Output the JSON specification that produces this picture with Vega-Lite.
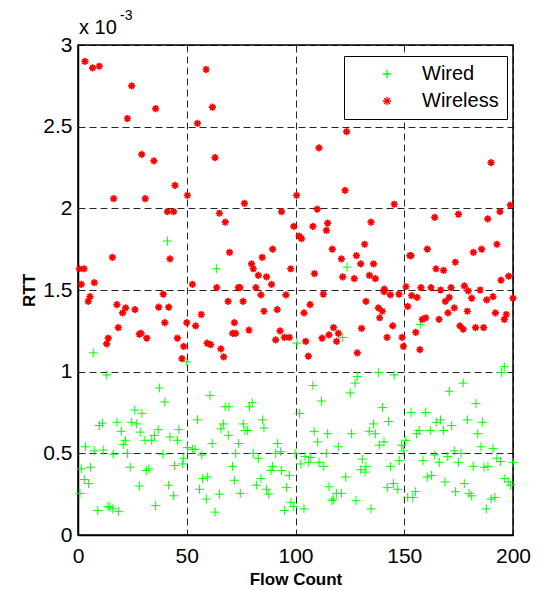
{
"$schema": "https://vega.github.io/schema/vega-lite/v6.json",
"width": 435, "height": 490,
"autosize": {"type": "none"},
"padding": {"left": 78, "top": 45, "right": 25, "bottom": 55},
"background": "white",
"config": {
  "font": "Liberation Sans",
  "view": {"stroke": "black", "strokeWidth": 1.5},
  "axis": {"domainColor": "black", "domainWidth": 1.5, "labelColor": "black", "labelFontSize": 21, "labelFont": "Liberation Sans", "ticks": false, "tickSize": 0, "grid": true, "gridColor": "black", "gridDash": [7, 4], "gridWidth": 1, "gridOpacity": 0.85, "titleFontSize": 17, "titleFontWeight": "bold", "titleColor": "black", "titleFont": "Liberation Sans", "labelFlush": false, "labelOverlap": false}
},
"datasets": {
"wireless": [
{"flow":3.2,"rtt":2.90},{"flow":6.7,"rtt":2.86},{"flow":9.8,"rtt":2.87},{"flow":24.7,"rtt":2.75},{"flow":22.7,"rtt":2.55},{"flow":35.7,"rtt":2.61},{"flow":29.3,"rtt":2.33},{"flow":34.9,"rtt":2.29},{"flow":44.6,"rtt":2.14},{"flow":50.3,"rtt":2.08},
{"flow":16.4,"rtt":2.06},{"flow":30.9,"rtt":2.06},{"flow":41.1,"rtt":1.98},{"flow":44.0,"rtt":1.98},{"flow":15.8,"rtt":1.70},{"flow":42.3,"rtt":1.69},{"flow":0.6,"rtt":1.63},{"flow":2.8,"rtt":1.63},{"flow":1.5,"rtt":1.535},{"flow":7.5,"rtt":1.545},
{"flow":58.9,"rtt":2.85},{"flow":61.8,"rtt":2.62},{"flow":54.9,"rtt":2.52},{"flow":63.0,"rtt":2.31},{"flow":100.5,"rtt":2.08},{"flow":76.5,"rtt":2.03},{"flow":65.0,"rtt":1.97},{"flow":93.6,"rtt":1.98},{"flow":67.7,"rtt":1.915},{"flow":99.2,"rtt":1.89},
{"flow":101.7,"rtt":1.83},{"flow":69.7,"rtt":1.73},{"flow":89.5,"rtt":1.75},{"flow":84.7,"rtt":1.70},{"flow":79.8,"rtt":1.66},{"flow":80.6,"rtt":1.63},{"flow":97.8,"rtt":1.63},{"flow":82.9,"rtt":1.59},{"flow":86.7,"rtt":1.58},{"flow":89.0,"rtt":1.535},
{"flow":52.6,"rtt":1.535},{"flow":63.8,"rtt":1.515},{"flow":73.7,"rtt":1.515},{"flow":74.5,"rtt":1.515},{"flow":81.8,"rtt":1.515},{"flow":123.5,"rtt":2.47},{"flow":110.8,"rtt":2.37},{"flow":122.8,"rtt":2.11},{"flow":145.4,"rtt":2.025},{"flow":110.0,"rtt":1.995},
{"flow":108.0,"rtt":1.89},{"flow":114.8,"rtt":1.91},{"flow":114.2,"rtt":1.865},{"flow":134.7,"rtt":1.915},{"flow":102.8,"rtt":1.815},{"flow":131.8,"rtt":1.78},{"flow":116.9,"rtt":1.75},{"flow":128.0,"rtt":1.71},{"flow":121.1,"rtt":1.69},{"flow":130.0,"rtt":1.66},
{"flow":135.9,"rtt":1.66},{"flow":108.7,"rtt":1.60},{"flow":121.7,"rtt":1.58},{"flow":127.0,"rtt":1.57},{"flow":134.0,"rtt":1.59},{"flow":136.7,"rtt":1.57},{"flow":152.6,"rtt":1.71},{"flow":150.8,"rtt":1.52},{"flow":140.8,"rtt":1.505},{"flow":189.9,"rtt":2.28},
{"flow":198.8,"rtt":2.02},{"flow":194.0,"rtt":1.98},{"flow":188.4,"rtt":1.935},{"flow":164.0,"rtt":1.945},{"flow":174.9,"rtt":1.965},{"flow":192.6,"rtt":1.78},{"flow":185.6,"rtt":1.75},{"flow":181.8,"rtt":1.73},{"flow":160.6,"rtt":1.75},{"flow":153.1,"rtt":1.71},
{"flow":173.5,"rtt":1.67},{"flow":164.6,"rtt":1.63},{"flow":168.1,"rtt":1.62},{"flow":194.5,"rtt":1.56},{"flow":198.0,"rtt":1.585},{"flow":157.7,"rtt":1.515},{"flow":162.3,"rtt":1.515},{"flow":171.5,"rtt":1.515},{"flow":177.6,"rtt":1.525},{"flow":166.7,"rtt":1.50},
{"flow":179.4,"rtt":1.495},{"flow":184.9,"rtt":1.50},{"flow":39.2,"rtt":1.475},{"flow":5.5,"rtt":1.46},{"flow":4.7,"rtt":1.43},{"flow":17.9,"rtt":1.41},{"flow":21.9,"rtt":1.39},{"flow":20.5,"rtt":1.36},{"flow":26.2,"rtt":1.38},{"flow":37.1,"rtt":1.395},
{"flow":41.7,"rtt":1.395},{"flow":50.0,"rtt":1.30},{"flow":39.9,"rtt":1.30},{"flow":18.5,"rtt":1.27},{"flow":28.2,"rtt":1.23},{"flow":29.0,"rtt":1.235},{"flow":31.6,"rtt":1.205},{"flow":13.9,"rtt":1.205},{"flow":13.2,"rtt":1.17},{"flow":45.7,"rtt":1.205},
{"flow":48.6,"rtt":1.155},{"flow":47.8,"rtt":1.08},{"flow":84.1,"rtt":1.47},{"flow":95.6,"rtt":1.47},{"flow":69.0,"rtt":1.43},{"flow":75.9,"rtt":1.43},{"flow":85.5,"rtt":1.37},{"flow":91.6,"rtt":1.38},{"flow":56.7,"rtt":1.35},{"flow":54.1,"rtt":1.28},
{"flow":71.9,"rtt":1.30},{"flow":71.1,"rtt":1.235},{"flow":72.5,"rtt":1.235},{"flow":78.6,"rtt":1.255},{"flow":92.9,"rtt":1.25},{"flow":59.4,"rtt":1.175},{"flow":61.0,"rtt":1.165},{"flow":65.7,"rtt":1.14},{"flow":67.0,"rtt":1.09},{"flow":90.9,"rtt":1.195},
{"flow":94.9,"rtt":1.21},{"flow":97.2,"rtt":1.21},{"flow":112.8,"rtt":1.475},{"flow":140.7,"rtt":1.49},{"flow":143.6,"rtt":1.47},{"flow":147.6,"rtt":1.475},{"flow":106.7,"rtt":1.41},{"flow":103.9,"rtt":1.36},{"flow":132.4,"rtt":1.43},{"flow":138.1,"rtt":1.39},
{"flow":139.9,"rtt":1.37},{"flow":138.7,"rtt":1.33},{"flow":151.6,"rtt":1.40},{"flow":144.7,"rtt":1.28},{"flow":117.5,"rtt":1.27},{"flow":115.4,"rtt":1.225},{"flow":112.2,"rtt":1.205},{"flow":119.7,"rtt":1.235},{"flow":118.9,"rtt":1.185},{"flow":130.4,"rtt":1.265},
{"flow":142.1,"rtt":1.21},{"flow":149.0,"rtt":1.21},{"flow":149.6,"rtt":1.155},{"flow":104.7,"rtt":1.185},{"flow":105.9,"rtt":1.095},{"flow":128.4,"rtt":1.115},{"flow":153.4,"rtt":1.465},{"flow":155.9,"rtt":1.455},{"flow":181.0,"rtt":1.45},{"flow":187.9,"rtt":1.44},
{"flow":190.8,"rtt":1.46},{"flow":200.0,"rtt":1.45},{"flow":168.9,"rtt":1.43},{"flow":170.7,"rtt":1.455},{"flow":173.0,"rtt":1.39},{"flow":170.1,"rtt":1.36},{"flow":179.0,"rtt":1.37},{"flow":191.9,"rtt":1.36},{"flow":196.9,"rtt":1.35},{"flow":196.0,"rtt":1.32},
{"flow":158.3,"rtt":1.32},{"flow":159.9,"rtt":1.33},{"flow":166.0,"rtt":1.32},{"flow":175.6,"rtt":1.28},{"flow":177.1,"rtt":1.26},{"flow":182.8,"rtt":1.27},{"flow":186.5,"rtt":1.27},{"flow":155.3,"rtt":1.24},{"flow":157.2,"rtt":1.135}
],
"wired": [
{"flow":41.1,"rtt":1.80},{"flow":63.6,"rtt":1.63},{"flow":123.7,"rtt":1.64},{"flow":7.0,"rtt":1.115},{"flow":50.0,"rtt":1.06},{"flow":13.2,"rtt":0.98},{"flow":37.4,"rtt":0.90},{"flow":39.9,"rtt":0.815},{"flow":26.1,"rtt":0.765},{"flow":29.4,"rtt":0.745},
{"flow":9.8,"rtt":0.67},{"flow":11.2,"rtt":0.685},{"flow":17.9,"rtt":0.69},{"flow":24.7,"rtt":0.69},{"flow":27.0,"rtt":0.68},{"flow":19.9,"rtt":0.635},{"flow":28.6,"rtt":0.63},{"flow":36.9,"rtt":0.645},{"flow":46.4,"rtt":0.645},{"flow":35.1,"rtt":0.61},
{"flow":33.9,"rtt":0.58},{"flow":30.8,"rtt":0.58},{"flow":21.8,"rtt":0.58},{"flow":20.8,"rtt":0.555},{"flow":42.3,"rtt":0.60},{"flow":45.7,"rtt":0.58},{"flow":50.3,"rtt":0.535},{"flow":3.4,"rtt":0.54},{"flow":7.5,"rtt":0.515},{"flow":11.6,"rtt":0.52},
{"flow":16.2,"rtt":0.495},{"flow":22.8,"rtt":0.50},{"flow":39.1,"rtt":0.495},{"flow":48.6,"rtt":0.47},{"flow":48.1,"rtt":0.435},{"flow":44.4,"rtt":0.425},{"flow":1.5,"rtt":0.405},{"flow":5.8,"rtt":0.415},{"flow":24.0,"rtt":0.415},{"flow":32.6,"rtt":0.405},
{"flow":31.4,"rtt":0.395},{"flow":2.9,"rtt":0.34},{"flow":4.9,"rtt":0.315},{"flow":28.2,"rtt":0.30},{"flow":41.7,"rtt":0.305},{"flow":44.0,"rtt":0.24},{"flow":0.9,"rtt":0.255},{"flow":9.1,"rtt":0.15},{"flow":13.8,"rtt":0.175},{"flow":14.7,"rtt":0.17},
{"flow":16.0,"rtt":0.16},{"flow":18.7,"rtt":0.145},{"flow":35.7,"rtt":0.18},{"flow":100.7,"rtt":1.175},{"flow":60.7,"rtt":0.855},{"flow":67.7,"rtt":0.785},{"flow":69.4,"rtt":0.785},{"flow":78.8,"rtt":0.785},{"flow":80.1,"rtt":0.81},{"flow":101.9,"rtt":0.745},
{"flow":54.9,"rtt":0.705},{"flow":66.8,"rtt":0.68},{"flow":65.7,"rtt":0.65},{"flow":76.0,"rtt":0.68},{"flow":76.8,"rtt":0.64},{"flow":78.0,"rtt":0.64},{"flow":84.9,"rtt":0.705},{"flow":85.5,"rtt":0.655},{"flow":69.1,"rtt":0.61},{"flow":61.7,"rtt":0.56},
{"flow":73.9,"rtt":0.56},{"flow":91.8,"rtt":0.56},{"flow":52.6,"rtt":0.525},{"flow":53.8,"rtt":0.525},{"flow":72.5,"rtt":0.50},{"flow":80.6,"rtt":0.50},{"flow":90.9,"rtt":0.50},{"flow":93.2,"rtt":0.51},{"flow":99.8,"rtt":0.50},{"flow":56.9,"rtt":0.49},
{"flow":82.9,"rtt":0.47},{"flow":71.1,"rtt":0.42},{"flow":89.5,"rtt":0.42},{"flow":88.7,"rtt":0.395},{"flow":93.6,"rtt":0.395},{"flow":97.2,"rtt":0.365},{"flow":57.3,"rtt":0.345},{"flow":59.6,"rtt":0.355},{"flow":71.9,"rtt":0.335},{"flow":84.1,"rtt":0.345},
{"flow":82.0,"rtt":0.305},{"flow":86.7,"rtt":0.28},{"flow":87.7,"rtt":0.25},{"flow":95.9,"rtt":0.29},{"flow":55.9,"rtt":0.28},{"flow":65.0,"rtt":0.25},{"flow":74.6,"rtt":0.255},{"flow":59.0,"rtt":0.22},{"flow":97.9,"rtt":0.20},{"flow":99.2,"rtt":0.175},
{"flow":94.9,"rtt":0.15},{"flow":63.0,"rtt":0.14},{"flow":121.7,"rtt":1.21},{"flow":138.1,"rtt":0.995},{"flow":145.4,"rtt":0.98},{"flow":128.4,"rtt":0.97},{"flow":127.4,"rtt":0.93},{"flow":125.2,"rtt":0.87},{"flow":108.0,"rtt":0.915},{"flow":112.0,"rtt":0.82},
{"flow":140.0,"rtt":0.78},{"flow":142.8,"rtt":0.695},{"flow":135.9,"rtt":0.68},{"flow":133.9,"rtt":0.635},{"flow":136.7,"rtt":0.62},{"flow":108.6,"rtt":0.635},{"flow":114.8,"rtt":0.62},{"flow":125.8,"rtt":0.62},{"flow":110.2,"rtt":0.57},{"flow":140.7,"rtt":0.57},
{"flow":138.5,"rtt":0.55},{"flow":119.7,"rtt":0.54},{"flow":150.8,"rtt":0.58},{"flow":148.8,"rtt":0.55},{"flow":149.6,"rtt":0.515},{"flow":114.2,"rtt":0.50},{"flow":104.4,"rtt":0.48},{"flow":107.0,"rtt":0.475},{"flow":106.1,"rtt":0.445},{"flow":102.5,"rtt":0.435},
{"flow":110.8,"rtt":0.445},{"flow":113.0,"rtt":0.42},{"flow":130.7,"rtt":0.465},{"flow":132.4,"rtt":0.42},{"flow":130.0,"rtt":0.40},{"flow":132.0,"rtt":0.385},{"flow":147.7,"rtt":0.455},{"flow":143.6,"rtt":0.42},{"flow":123.1,"rtt":0.355},{"flow":115.4,"rtt":0.295},
{"flow":118.8,"rtt":0.255},{"flow":121.1,"rtt":0.255},{"flow":117.4,"rtt":0.22},{"flow":116.8,"rtt":0.21},{"flow":127.8,"rtt":0.21},{"flow":142.2,"rtt":0.29},{"flow":145.0,"rtt":0.315},{"flow":147.0,"rtt":0.28},{"flow":151.6,"rtt":0.23},{"flow":103.9,"rtt":0.16},
{"flow":134.7,"rtt":0.16},{"flow":157.4,"rtt":1.29},{"flow":196.0,"rtt":1.03},{"flow":194.8,"rtt":0.995},{"flow":177.1,"rtt":0.93},{"flow":170.7,"rtt":0.88},{"flow":183.0,"rtt":0.805},{"flow":153.1,"rtt":0.75},{"flow":159.9,"rtt":0.75},{"flow":179.0,"rtt":0.705},
{"flow":185.9,"rtt":0.69},{"flow":164.7,"rtt":0.69},{"flow":166.7,"rtt":0.705},{"flow":171.8,"rtt":0.67},{"flow":156.9,"rtt":0.64},{"flow":155.7,"rtt":0.62},{"flow":162.0,"rtt":0.64},{"flow":168.1,"rtt":0.64},{"flow":183.8,"rtt":0.62},{"flow":185.3,"rtt":0.54},
{"flow":190.8,"rtt":0.53},{"flow":173.0,"rtt":0.515},{"flow":176.1,"rtt":0.50},{"flow":164.0,"rtt":0.49},{"flow":170.0,"rtt":0.48},{"flow":158.6,"rtt":0.455},{"flow":166.1,"rtt":0.445},{"flow":174.9,"rtt":0.445},{"flow":192.6,"rtt":0.47},{"flow":194.2,"rtt":0.45},
{"flow":200.0,"rtt":0.445},{"flow":181.7,"rtt":0.42},{"flow":186.7,"rtt":0.415},{"flow":188.5,"rtt":0.42},{"flow":160.6,"rtt":0.355},{"flow":162.6,"rtt":0.365},{"flow":168.7,"rtt":0.325},{"flow":177.6,"rtt":0.315},{"flow":196.3,"rtt":0.345},{"flow":197.8,"rtt":0.325},
{"flow":198.9,"rtt":0.305},{"flow":155.1,"rtt":0.265},{"flow":153.9,"rtt":0.23},{"flow":173.6,"rtt":0.265},{"flow":179.8,"rtt":0.255},{"flow":181.0,"rtt":0.24},{"flow":189.9,"rtt":0.22},{"flow":191.7,"rtt":0.23},{"flow":187.7,"rtt":0.16}
],
"scale_label": [{"flow": 0, "rtt": 3, "base": "x 10", "exp": "-3"}]
},
"layer": [
  {
    "data": {"name": "wired"},
    "transform": [{"calculate": "'Wired'", "as": "type"}],
    "mark": {"type": "point", "filled": false, "strokeWidth": 1, "size": 81, "opacity": 1},
    "encoding": {
      "x": {"field": "flow", "type": "quantitative", "scale": {"domain": [0, 200], "nice": false, "zero": false}, "axis": {"values": [0, 50, 100, 150, 200], "title": "Flow Count", "labelPadding": 10, "titlePadding": 5}},
      "y": {"field": "rtt", "type": "quantitative", "scale": {"domain": [0, 3], "nice": false}, "axis": {"values": [0, 0.5, 1, 1.5, 2, 2.5, 3], "format": "~g", "title": "RTT", "labelPadding": 6, "titlePadding": 4}},
      "color": {"field": "type", "type": "nominal", "scale": {"domain": ["Wired", "Wireless"], "range": ["#00ff00", "#ff0000"]}, "legend": {"orient": "none", "legendX": 266, "legendY": 11, "title": null, "strokeColor": "black", "fillColor": "white", "padding": 8, "labelFontSize": 20, "labelColor": "black", "labelFont": "Liberation Sans", "rowPadding": 7, "symbolSize": 70, "symbolStrokeWidth": 1.3, "symbolOffset": 25, "labelOffset": 25}},
      "shape": {"field": "type", "type": "nominal", "scale": {"domain": ["Wired", "Wireless"], "range": ["M-1,0H1M0,-1V1", "M-1,0H1M0,-1V1M-0.7,-0.7L0.7,0.7M-0.7,0.7L0.7,-0.7"]}}
    }
  },
  {
    "data": {"name": "wireless"},
    "transform": [{"calculate": "'Wireless'", "as": "type"}],
    "mark": {"type": "point", "filled": false, "strokeWidth": 1.7, "size": 52, "opacity": 1},
    "encoding": {
      "x": {"field": "flow", "type": "quantitative"},
      "y": {"field": "rtt", "type": "quantitative"},
      "color": {"field": "type", "type": "nominal"},
      "shape": {"field": "type", "type": "nominal"}
    }
  },
  {
    "data": {"name": "scale_label"},
    "mark": {"type": "text", "align": "left", "baseline": "alphabetic", "dx": 1, "dy": -11, "fontSize": 20, "color": "black", "font": "Liberation Sans"},
    "encoding": {"x": {"field": "flow", "type": "quantitative"}, "y": {"field": "rtt", "type": "quantitative"}, "text": {"field": "base"}}
  },
  {
    "data": {"name": "scale_label"},
    "mark": {"type": "text", "align": "left", "baseline": "alphabetic", "dx": 42, "dy": -25, "fontSize": 14, "color": "black", "font": "Liberation Sans"},
    "encoding": {"x": {"field": "flow", "type": "quantitative"}, "y": {"field": "rtt", "type": "quantitative"}, "text": {"field": "exp"}}
  }
]
}
